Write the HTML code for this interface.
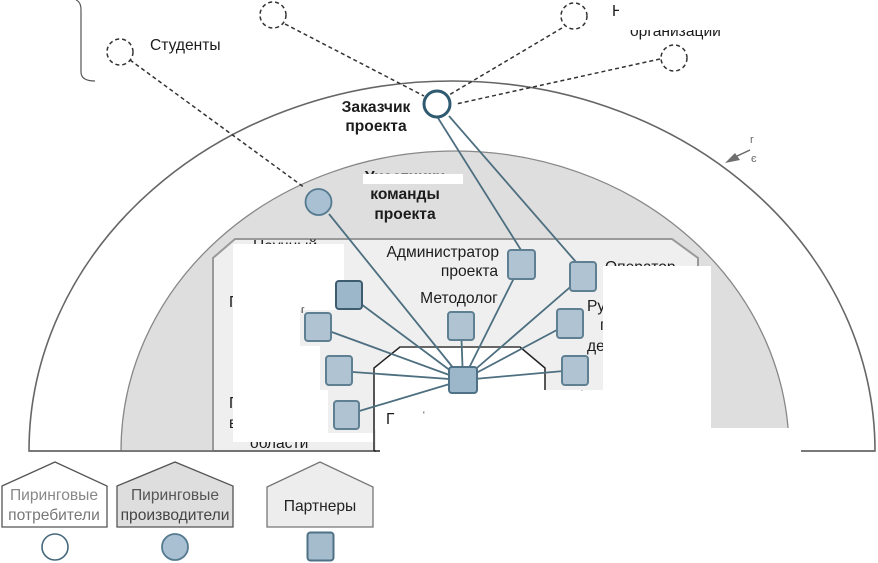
<!DOCTYPE html>
<html lang="ru">
<head>
<meta charset="utf-8">
<style>
html,body{margin:0;padding:0;background:#fff;width:878px;height:563px;overflow:hidden}
svg{display:block}
text{font-family:"Liberation Sans",sans-serif;font-size:15.6px;fill:#1c1c1c}
.b{font-weight:bold}
.m{text-anchor:middle}
.e{text-anchor:end}
.dash{fill:none;stroke:#333;stroke-width:1.5;stroke-dasharray:4 3}
.dc{fill:#fff;stroke:#333;stroke-width:1.5;stroke-dasharray:4 3}
.con{stroke:#4d6f80;stroke-width:1.8;fill:none}
.n{fill:#afc3d2;stroke:#5f7f92;stroke-width:2}
.h{fill:#9db7ca;stroke:#4f7186;stroke-width:2}
</style>
</head>
<body>
<svg width="878" height="563" viewBox="0 0 878 563" xmlns="http://www.w3.org/2000/svg">
<rect width="878" height="563" fill="#fff"/>

<!-- outer dome -->
<path d="M29 451 A423 370 0 0 1 875 451 Z" fill="#fff" stroke="#666" stroke-width="1.6"/>
<!-- middle dome -->
<path d="M121 451 A334 300 0 0 1 789 451 Z" fill="#dedede" stroke="#888" stroke-width="1.3"/>
<!-- panel -->
<path d="M213 451 V258 L235 239 H672 L698 258 V451 Z" fill="#efefef" stroke="#999" stroke-width="2"/>

<!-- labels later clipped by white patches -->
<text x="253" y="251">Научный</text>
<text x="229" y="307">Пр</text>
<text x="229" y="408">Пр</text>
<text x="229" y="428">в</text>
<text x="250" y="448">области</text>

<!-- white patch, left -->
<rect x="233" y="244" width="111" height="198" fill="#fff"/>
<rect x="344" y="433" width="30" height="9" fill="#fff"/>
<rect x="344" y="279" width="30" height="31" fill="#efefef"/>
<rect x="300" y="310" width="74" height="36" fill="#efefef"/>
<rect x="320" y="346" width="54" height="44" fill="#efefef"/>
<rect x="328" y="390" width="46" height="43" fill="#efefef"/>
<text x="301" y="313" style="font-size:10px">г</text>

<!-- base line segment left -->
<path d="M29 451 H374" stroke="#666" stroke-width="1.6" fill="none"/>

<!-- inner polygon -->
<path d="M374 390 V368 L400 347 H520 L545 368 V390 Z" fill="#fff" stroke="none"/>
<rect x="375" y="390" width="240" height="40" fill="#fff"/>
<rect x="376" y="428" width="425" height="26" fill="#fff"/>
<path d="M374 451 V368 L400 347 H520 L545 368 V390" fill="none" stroke="#222" stroke-width="1.5"/>
<path d="M400 347 H520" stroke="#666" stroke-width="2" fill="none"/>
<path d="M374 451 H380" stroke="#222" stroke-width="1.5" fill="none"/>
<text x="386" y="424">Г</text>
<text x="423" y="418" style="font-size:9px">'</text>

<!-- panel labels -->
<text x="499" y="257" class="e">Администратор</text>
<text x="498" y="276" class="e">проекта</text>
<text x="459" y="303" class="m">Методолог</text>
<text x="605" y="272">Оператор</text>
<text x="587" y="311">Ру</text>
<text x="600" y="330">п</text>
<text x="587" y="351">де</text>
<text x="581" y="397" style="font-size:10px">'</text>

<!-- white patch, right -->
<rect x="603" y="266" width="108" height="186" fill="#fff"/>
<rect x="545" y="390.500" width="60" height="40" fill="#fff"/>
<path d="M801 451 H875" stroke="#666" stroke-width="1.6" fill="none"/>

<!-- team label -->
<text x="405" y="182" class="m b">Участники</text>
<rect x="363" y="174" width="100" height="10" fill="#fff"/>
<text x="405" y="199" class="m b">команды</text>
<text x="405" y="219" class="m b">проекта</text>
<text x="376" y="112" class="m b">Заказчик</text>
<text x="376" y="131" class="m b">проекта</text>

<!-- connectors -->
<path class="con" d="M438 118 L521 250 M449 116 L576 262 M329 214 L463 380"/>
<path class="con" d="M349 295 L463 380 M318 327 L463 380 M339 371 L463 380 M346 415 L463 380 M461 326 L463 380 M521 264 L463 380 M583 276 L463 380 M570 323 L463 380 M575 370 L463 380"/>
<path class="dash" d="M130 60 L305 188 M285 24 L424 96 M562 28 L449 95 M660 59 L456 104"/>

<!-- dashed top circles -->
<circle class="dc" cx="120" cy="52" r="13"/>
<circle class="dc" cx="273" cy="15" r="13"/>
<circle class="dc" cx="574" cy="16" r="13"/>
<circle class="dc" cx="674" cy="58" r="13"/>

<!-- main circles -->
<circle cx="437" cy="104" r="13" fill="#fff" stroke="#2f5a70" stroke-width="3"/>
<circle cx="318.500" cy="202" r="13" fill="#a9c0d2" stroke="#557a90" stroke-width="1.800"/>

<!-- nodes -->
<rect class="h" x="336" y="281" width="26" height="28" rx="3" style="stroke:#3d5c70"/>
<rect class="n" x="305" y="313" width="26" height="28" rx="3"/>
<rect class="n" x="326" y="356" width="26" height="29" rx="3"/>
<rect class="n" x="334" y="401" width="25" height="28" rx="3"/>
<rect class="n" x="448" y="312" width="26" height="28" rx="3"/>
<rect class="h" x="449" y="367" width="28" height="26" rx="3"/>
<rect class="n" x="508" y="250" width="27" height="29" rx="3"/>
<rect class="n" x="570" y="262" width="26" height="29" rx="3"/>
<rect class="n" x="557" y="309" width="26" height="29" rx="3"/>
<rect class="n" x="562" y="356" width="26" height="29" rx="3"/>

<!-- top-right labels -->
<text x="612" y="16">Н</text>
<rect x="619" y="0" width="110" height="24" fill="#fff"/>
<text x="630" y="36">организации</text>
<rect x="625" y="22" width="105" height="8" fill="#fff"/>
<text x="150" y="50">Студенты</text>

<!-- bracket -->
<path d="M76 0 Q81 2 81 10 V72 Q81 81 95 81" fill="none" stroke="#555" stroke-width="1.200"/>

<!-- arrow -->
<path d="M750 150 L735 157" stroke="#666" stroke-width="1.500" fill="none"/>
<path d="M725 163 L735 153 L740 160 Z" fill="#6f6f6f"/>
<text x="750" y="143" style="font-size:11px;fill:#666">r</text>
<text x="751" y="162" style="font-size:11px;fill:#666">є</text>

<!-- legend -->
<path d="M2 486 L55 462 L107 486 V527 H2 Z" fill="#fff" stroke="#555" stroke-width="1.300"/>
<path d="M117 486 L175 462 L233 486 V527 H117 Z" fill="#dedede" stroke="#555" stroke-width="1.300"/>
<path d="M267 487 L320 462 L373 487 V527 H267 Z" fill="#ededed" stroke="#777" stroke-width="1.300"/>
<text x="54" y="500" class="m" style="fill:#888">Пиринговые</text>
<text x="54" y="520" class="m" style="fill:#777">потребители</text>
<text x="175" y="500" class="m" style="fill:#555">Пиринговые</text>
<text x="175" y="520" class="m" style="fill:#444">производители</text>
<text x="320" y="511" class="m" style="fill:#222">Партнеры</text>
<circle cx="55" cy="547" r="13" fill="#fff" stroke="#45687c" stroke-width="1.600"/>
<circle cx="175" cy="547" r="13" fill="#a9c0d2" stroke="#557a90" stroke-width="1.800"/>
<rect x="307.500" y="532.500" width="26" height="28" rx="3" fill="#a5bccd" stroke="#4f7186" stroke-width="2"/>
</svg>
</body>
</html>
